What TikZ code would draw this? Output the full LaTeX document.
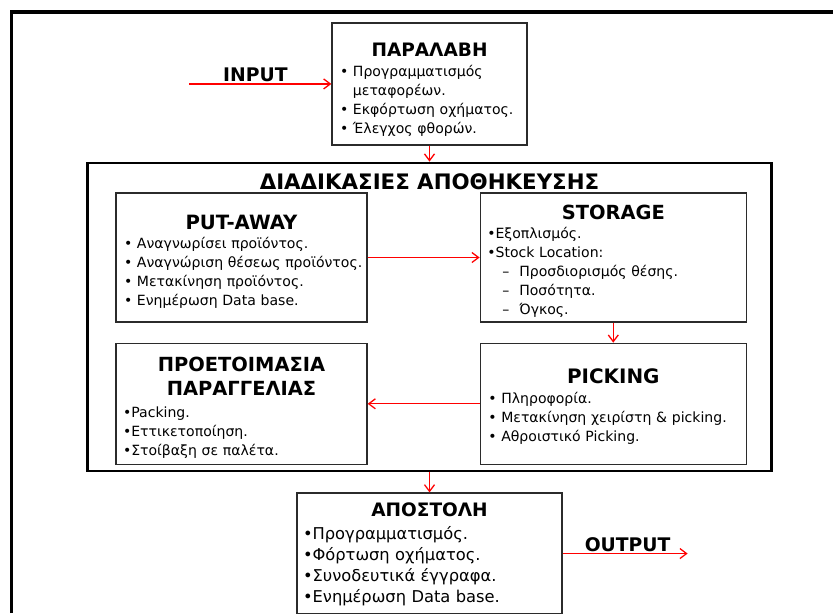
\documentclass[tikz,border=0pt]{standalone}
\usepackage{fontspec}
\setmainfont{DejaVu Sans}
\usetikzlibrary{arrows.meta, positioning}
\definecolor{FlowRed}{HTML}{FF0000}
\definecolor{BoxLine}{HTML}{2B2B2B}
% title line of a box: size, strut height, text
\newcommand{\stagehead}[3]{{\centering\fontsize{#1}{20.5}\selectfont\bfseries\rule{0pt}{#2}#3\par}}
\newcommand{\stagetext}{\fontsize{12}{16.2}\selectfont}
\newcommand{\stagetextlarge}{\fontsize{13.9}{17.9}\selectfont}
\tikzset{
  % Box styles
  stagebox/.style={rectangle, draw=BoxLine, line width=1.1pt, fill=white, inner xsep=0pt, inner ysep=0pt, align=left, font=\stagetext, execute at begin node={\leftskip=#1\relax}},
  stagebox/.default=2.4mm,
  groupbox/.style={rectangle, draw=black, line width=2.4pt},
  % Arrow styles
  redarrow/.style={-{Straight Barb[length=2mm, width=3mm]}, line width=1.1pt, FlowRed},
  % Label styles
  flowlabel/.style={font=\fontsize{16}{19}\selectfont\bfseries, text=black, inner sep=1pt},
  grouptitle/.style={font=\fontsize{18.2}{22}\selectfont\bfseries, inner sep=0pt}
}
\begin{document}
\begin{tikzpicture}[x=0.3mm, y=-0.3mm]
  \useasboundingbox (0,0) rectangle (833,613);
  % Slide frame
  \draw[line width=2.6pt] (11.5,613) -- (11.5,12) -- (833,12);

  % Storage processes
  \node[groupbox, minimum width=205.2mm, minimum height=92.4mm] (proc) at (429.5,317) {};
  \node[grouptitle] (proctitle) at (429.5,182) {ΔΙΑΔΙΚΑΣΙΕΣ ΑΠΟΘΗΚΕΥΣΗΣ};

  \node[stagebox, text width=75.3mm, minimum height=38.7mm] (putaway) at (241.5,257.5) {\stagehead{16.8}{19.8pt}{PUT-AWAY}
    • Αναγνωρίσει προϊόντος.\\
    • Αναγνώριση θέσεως προϊόντος.\\
    • Μετακίνηση προϊόντος.\\
    • Ενημέρωση Data base.};
  \node[stagebox=2.1mm, text width=79.8mm, minimum height=38.7mm, right=33.6mm of putaway] (storage) {\stagehead{16.6}{18.9pt}{STORAGE}\vspace{0.5pt}
    •Εξοπλισμός.\\
    •Stock Location:\\
    \hspace*{4.5mm}–\hspace{3mm}Προσδιορισμός θέσης.\\
    \hspace*{4.5mm}–\hspace{3mm}Ποσότητα.\\
    \hspace*{4.5mm}–\hspace{3mm}Όγκος.};
  \node[stagebox=2.1mm, text width=75.3mm, minimum height=36.3mm, below=6mm of putaway] (prep) {\stagehead{16.6}{18.9pt}{ΠΡΟΕΤΟΙΜΑΣΙΑ\\ΠΑΡΑΓΓΕΛΙΑΣ}\vspace{3pt}
    •Packing.\\
    •Εττικετοποίηση.\\
    •Στοίβαξη σε παλέτα.};
  \node[stagebox, text width=79.8mm, minimum height=36.3mm, below=6mm of storage] (picking) {\stagehead{17}{17.2pt}{PICKING}\vspace{1.2pt}
    • Πληροφορία.\\
    • Μετακίνηση χειρίστη \& picking.\\
    • Αθροιστικό Picking.};

  % Receiving and dispatch
  \node[stagebox, text width=58.5mm, minimum height=36.6mm, above=4.8mm of proc] (recv) {\stagehead{15.8}{21.7pt}{ΠΑΡΑΛΑΒΗ}\vspace{1.2pt}
    • Προγραμματισμός\\
    \phantom{•} μεταφορέων.\\
    • Εκφόρτωση οχήματος.\\
    • Έλεγχος φθορών.};
  \node[stagebox=1.8mm, text width=79.5mm, minimum height=36.3mm, font=\stagetextlarge, below=6mm of proc] (ship) {\stagehead{15.8}{13.2pt}{ΑΠΟΣΤΟΛΗ}\vspace{1.7pt}
    •Προγραμματισμός.\\
    •Φόρτωση οχήματος.\\
    •Συνοδευτικά έγγραφα.\\
    •Ενημέρωση Data base.};

  % Flow
  \coordinate[left=42.6mm of recv.west] (in);
  \coordinate[right=37.5mm of ship.east] (out);
  \draw[redarrow] (in) -- node[flowlabel, above, pos=0.465] (inlabel) {INPUT} (recv.west);
  \draw[redarrow] (recv) -- (proc);
  \draw[redarrow] (putaway) -- (storage);
  \draw[redarrow] (storage) -- (picking);
  \draw[redarrow] (picking) -- (prep);
  \draw[redarrow] (proc) -- (ship);
  \draw[redarrow] (ship.east) -- node[flowlabel, above, pos=0.52] (outlabel) {OUTPUT} (out);
\end{tikzpicture}
\end{document}
